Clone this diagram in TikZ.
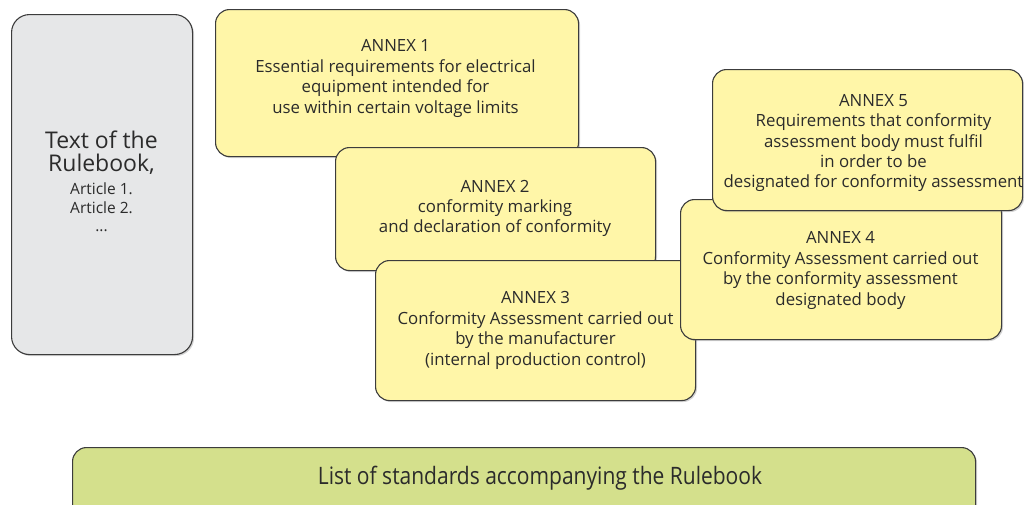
\documentclass[tikz,border=0pt]{standalone}
\usepackage{fontspec}
\setmainfont{Open Sans}
\usetikzlibrary{shadows}
\definecolor{boxyellow}{HTML}{FFF6A8}
\definecolor{boxgray}{HTML}{E6E7E8}
\definecolor{boxgreen}{HTML}{D4E08C}
\definecolor{edgecol}{HTML}{3C3C3C}
\definecolor{ink}{HTML}{2B2B2B}
\begin{document}
\begin{tikzpicture}[x=1pt,y=-1pt,
  card/.style={draw=edgecol, line width=1.1pt, rounded corners=14pt, inner sep=0pt, anchor=north west,
    drop shadow={shadow xshift=1.5pt, shadow yshift=-1.5pt, opacity=0.35, fill=gray}},
  yellowcard/.style={card, fill=boxyellow},
  txt/.style={text=ink, align=center, font=\fontsize{16.8}{20.4}\selectfont, inner sep=0pt}
]
\useasboundingbox (0,0) rectangle (1024,504);

% Text of the Rulebook
\node[card, fill=boxgray, rounded corners=18pt, minimum width=181pt, minimum height=340pt] (rb) at (11,14) {};
\node[txt, font=\fontsize{23}{23}\selectfont] (rbtitle) at (101.5,153) {Text of the\\Rulebook,};
\node[txt, font=\fontsize{15.5}{18.5}\selectfont] (rbart) at (101.5,207.5) {Article 1.\\Article 2.\\...};

% ANNEX 1
\node[yellowcard, minimum width=363pt, minimum height=147pt] (a1) at (215,9) {};
\node[txt] (a1t) at (395.5,78.5) {ANNEX 1\\Essential requirements for electrical\\equipment intended for\\use within certain voltage limits};

% ANNEX 2
\node[yellowcard, minimum width=320pt, minimum height=123pt] (a2) at (335,147) {};
\node[txt] (a2t) at (495,208.5) {ANNEX 2\\conformity marking\\and declaration of conformity};

% ANNEX 3
\node[yellowcard, minimum width=320pt, minimum height=140pt] (a3) at (375,260) {};
\node[txt] (a3t) at (535.5,330.5) {ANNEX 3\\Conformity Assessment carried out\\by the manufacturer\\(internal production control)};

% ANNEX 4
\node[yellowcard, minimum width=321pt, minimum height=140pt] (a4) at (680,199) {};
\node[txt] (a4t) at (840.5,270.5) {ANNEX 4\\Conformity Assessment carried out\\by the conformity assessment\\designated body};

% ANNEX 5
\node[yellowcard, minimum width=310pt, minimum height=141pt] (a5) at (712,69) {};
\node[txt] (a5t) at (873.5,143) {ANNEX 5\\Requirements that conformity\\assessment body must fulfil\\in order to be\\designated for conformity assessment};

% Standards
\node[card, fill=boxgreen, minimum width=903pt, minimum height=80pt] (std) at (72,447) {};
\node[txt, font=\fontsize{24}{26}\selectfont, xscale=0.875] (stdt) at (540,478) {List of standards accompanying the Rulebook};
\end{tikzpicture}
\end{document}
